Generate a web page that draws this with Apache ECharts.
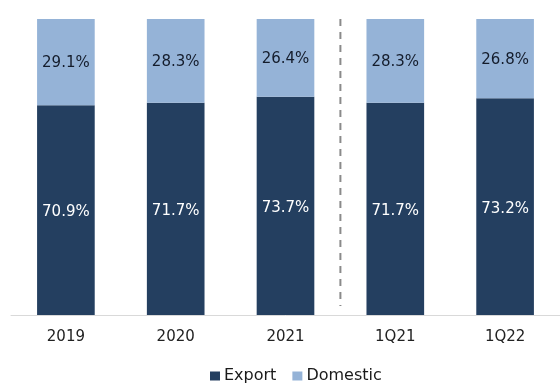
<!DOCTYPE html>
<html><head><meta charset="utf-8">
<script src="https://cdn.jsdelivr.net/npm/echarts@6/dist/echarts.min.js"></script>
<style>html,body{margin:0;padding:0;background:#fff}#c{width:560px;height:385px}</style>
</head><body><div id="c"></div>
<script>
var categories = ['2019', '2020', '2021', '1Q21', '1Q22'];
var exportVals = [70.9, 71.7, 73.7, 71.7, 73.2];
var domesticVals = [29.1, 28.3, 26.4, 28.3, 26.8];
var dividerPos = 3;
var chart = echarts.init(document.getElementById('c'));
var font = 'DejaVu Sans';
function pct(p){ return p.value.toFixed(1) + '%'; }
chart.setOption({
  animation: false,
  grid: {left: 11, right: -1, top: 19, bottom: 70},
  legend: {
    data: ['Export', 'Domestic'], top: 363, left: 205,
    itemWidth: 10, itemHeight: 9, icon: 'rect', itemGap: 16,
    textStyle: {fontFamily: font, fontSize: 16, color: '#1a1a1a', padding: [0, 0, 0, -1]}
  },
  xAxis: [{
    type: 'category', data: categories,
    axisLine: {lineStyle: {color: '#d9d9d9', width: 1}},
    axisTick: {show: false},
    axisLabel: {fontFamily: font, fontSize: 15, color: '#222', margin: 15}
  }, {
    type: 'value', min: 0, max: 5, show: false
  }],
  yAxis: {type: 'value', min: 0, max: 100, show: false, splitLine: {show: false}},
  series: [
    {
      name: 'Export', type: 'bar', stack: 's', data: exportVals, barWidth: '52.5%',
      itemStyle: {color: '#243f60'},
      label: {show: true, position: 'inside', formatter: pct,
        fontFamily: font, fontSize: 15, color: '#ffffff', offset: [0, 2]}
    },
    {
      name: 'Domestic', type: 'bar', stack: 's', data: domesticVals, barWidth: '52.5%',
      itemStyle: {color: '#95b3d7'},
      label: {show: true, position: 'inside', formatter: pct,
        fontFamily: font, fontSize: 15, color: '#141c2b', offset: [0, 1]}
    },
    {
      name: 'divider', type: 'line', xAxisIndex: 1, data: [[dividerPos, 100], [dividerPos, 3]],
      symbol: 'none', silent: true, z: 5,
      lineStyle: {type: [7, 6], color: '#8a8a8a', width: 2}
    }
  ]
});
</script></body></html>
